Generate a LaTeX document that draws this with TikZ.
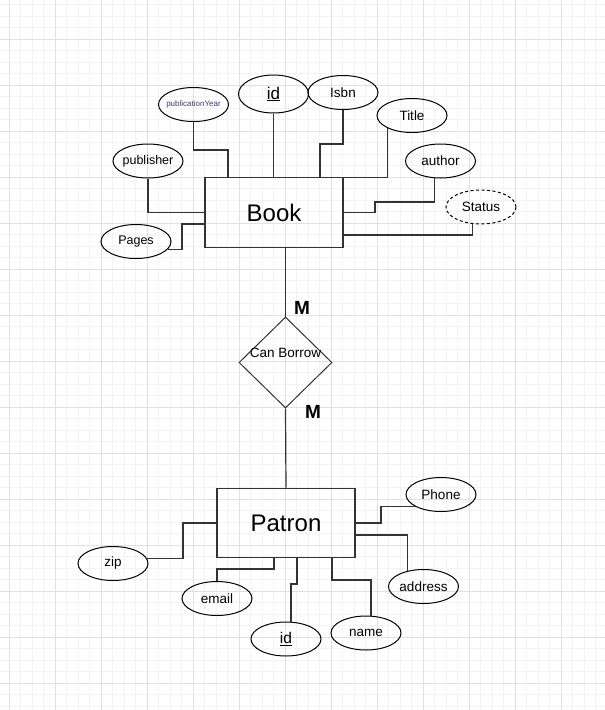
\documentclass[tikz,border=0pt]{standalone}
\usepackage{fontspec}
\setmainfont{Liberation Sans}
\usetikzlibrary{shapes.geometric}
\definecolor{gridminor}{RGB}{243,243,243}
\definecolor{gridmajor}{RGB}{225,225,225}
\definecolor{edge}{RGB}{51,51,51}
\definecolor{smalltext}{RGB}{50,65,115}

\begin{document}
\begin{tikzpicture}[x=1pt,y=-1pt,
  entity/.style={draw=edge,line width=1.3pt,minimum width=138pt,minimum height=69.5pt,inner sep=0pt,font=\fontsize{24}{28}\selectfont},
  attr/.style={draw=black,ellipse,line width=1pt,minimum width=70pt,minimum height=34pt,inner sep=0pt,font=\fontsize{13.5}{16}\selectfont},
  rel/.style={draw=edge,diamond,line width=1pt,minimum width=93pt,minimum height=91pt,inner sep=0pt,aspect=1},
  link/.style={draw=edge,line width=1.2pt},
  card/.style={font=\bfseries\fontsize{19}{22}\selectfont}]
% Fix the page size
\useasboundingbox (0,0) rectangle (605,710);
% Background grid
\fill[white] (0,0) rectangle (605,710);
\foreach \x in {-2.5,9,...,610} \draw[gridminor] (\x,0) -- (\x,710);
\foreach \y in {-7,4.5,...,715} \draw[gridminor] (0,\y) -- (605,\y);
\foreach \x in {9,55,...,610} \draw[gridmajor] (\x,0) -- (\x,710);
\foreach \y in {39,85,...,715} \draw[gridmajor] (0,\y) -- (605,\y);

% Book and its attributes
\node[entity] (book) at (274,212.5) {Book};
\node[attr,inner xsep=-5pt,font=\fontsize{8}{10}\selectfont,text=smalltext] (pyear) at (193.5,104.5) {publicationYear};
\node[attr,minimum height=38pt,font=\fontsize{17}{20}\selectfont] (bookid) at (273.5,94) {\underline{id}};
\node[attr] (isbn) at (343,92.5) {Isbn};
\node[attr] (title) at (412,115.5) {Title};
\node[attr,inner xsep=-3pt,font=\fontsize{12.5}{15}\selectfont] (publisher) at (148,161) {publisher};
\node[attr] (author) at (440.5,161) {author};
\node[attr,dash pattern=on 3pt off 2.5pt] (status) at (481,207) {Status};
\node[attr,font=\fontsize{12.5}{15}\selectfont] (pages) at (136,241.5) {Pages};

\draw[link] (pyear.south) |- (228,150) -- (228,0 |- book.north);
\draw[link] (bookid.south) -- (bookid.south |- book.north);
\draw[link] (isbn.south) |- (320,144) -- (320,0 |- book.north);
\draw[link] (title.207) |- (book.north east);
\draw[link] (publisher.south) |- (book.west);
\draw[link] (pages.346) -| (182,224) -- (book.west |- 0,224);
\draw[link] (author.252) |- (375,202) |- (book.east);
\draw[link] (status.244) |- (book.east |- 0,235);

% Relationship
\node[rel] (borrow) at (285.5,362.5) {};
\node[font=\fontsize{13.5}{16}\selectfont] (borrowlbl) at (285.5,353) {Can Borrow};
\node[card] (m1) at (302,308) {M};
\node[card] (m2) at (313,412) {M};

% Patron and its attributes
\node[entity] (patron) at (286,523) {Patron};
\node[attr] (phone) at (441,494.5) {Phone};
\node[attr] (zip) at (113,563.5) {zip};
\node[attr] (email) at (217,598.5) {email};
\node[attr,font=\fontsize{15.5}{18}\selectfont] (patronid) at (286,639) {\underline{id}};
\node[attr] (name) at (366,633) {name};
\node[attr] (address) at (423.5,586.5) {address};

\draw[link] (borrow.north |- book.south) -- (borrow.north);
\draw[link] (borrow.south) -- (patron.north);

\draw[link] (phone.204) -| (381,523) -- (patron.east);
\draw[link] (zip.9) -| (183,523) -- (patron.west);
\draw[link] (email.north) |- (274,569) -- (274,0 |- patron.south);
\draw[link] (patronid.74) |- (297,584) -- (297,0 |- patron.south);
\draw[link] (name.74) |- (332,580) -- (332,0 |- patron.south);
\draw[link] (address.135) |- (patron.east |- 0,535);
\end{tikzpicture}
\end{document}
